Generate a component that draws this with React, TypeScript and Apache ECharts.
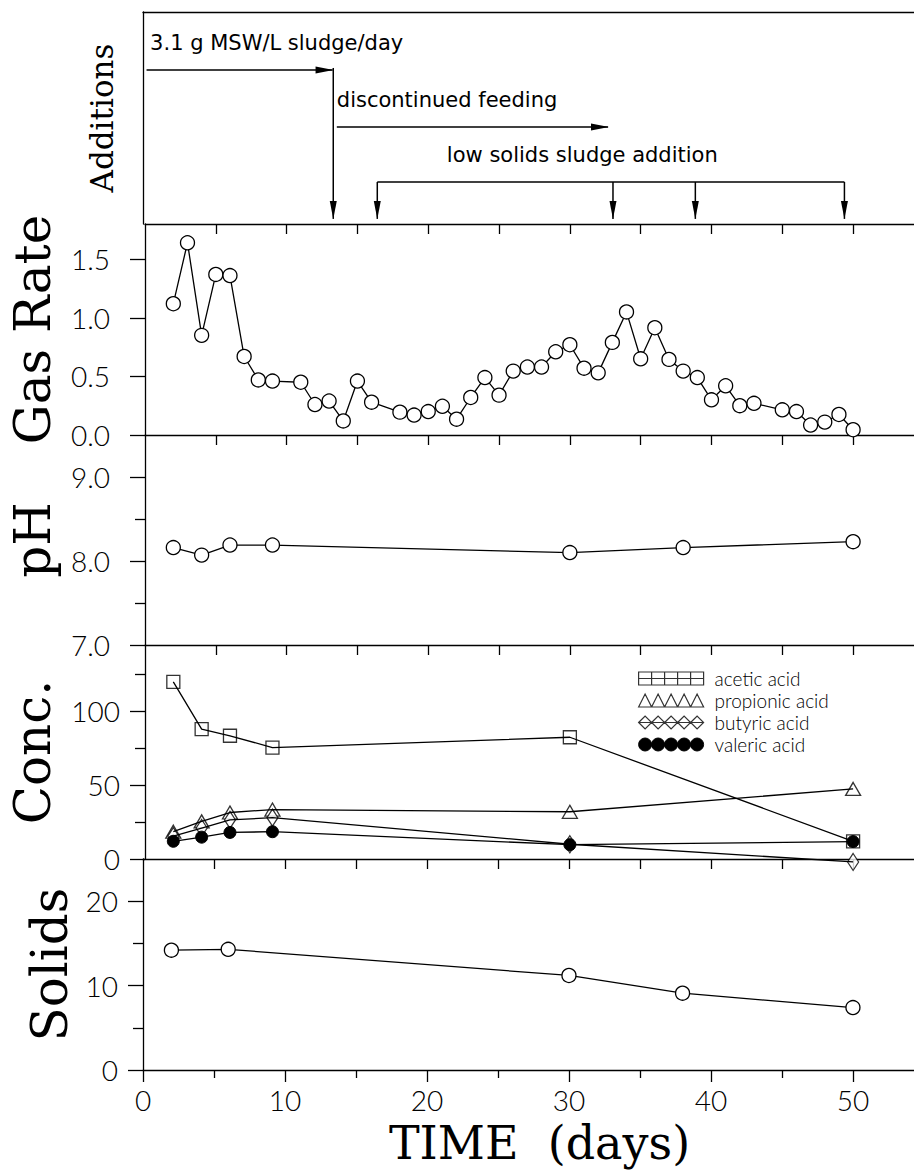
import React, { useEffect, useRef } from "react";
import * as echarts from "echarts";

// ---------------- data ----------------
const X_MAX = 54.3;

const gasDays = [2, 3, 4, 5, 6, 7, 8, 9, 11, 12, 13, 14, 15, 16, 18, 19, 20, 21, 22, 23, 24, 25, 26, 27, 28, 29, 30, 31, 32, 33, 34, 35, 36, 37, 38, 39, 40, 41, 42, 43, 45, 46, 47, 48, 49, 50];
const gasRate = [1.12, 1.64, 0.85, 1.37, 1.36, 0.67, 0.47, 0.46, 0.45, 0.26, 0.29, 0.12, 0.46, 0.28, 0.195, 0.17, 0.2, 0.245, 0.135, 0.32, 0.49, 0.34, 0.545, 0.58, 0.58, 0.71, 0.77, 0.57, 0.53, 0.79, 1.05, 0.65, 0.915, 0.645, 0.545, 0.49, 0.3, 0.42, 0.25, 0.27, 0.215, 0.2, 0.085, 0.11, 0.175, 0.045];

const phDays = [2, 4, 6, 9, 30, 38, 50];
const phValues = [8.16, 8.07, 8.19, 8.19, 8.1, 8.16, 8.23];

const concDays = [2, 4, 6, 9, 30, 50];
const aceticAcid = [120, 88, 83.5, 75.5, 82.5, 12];
const propionicAcid = [18.5, 25.5, 31.5, 33.5, 32, 47.5];
const butyricAcid = [15.5, 21, 26.5, 28, 10, -2];
const valericAcid = [12, 14.8, 18, 18.5, 9.7, 11.8];

const solidsDays = [2, 6, 30, 38, 50];
const solidsValues = [14.2, 14.3, 11.2, 9.1, 7.4];

// additions (days)
const feedPeriod = [0.25, 13.35];
const stopFeedDay = 13.4;
const restPeriod = [13.65, 32.75];
const sludgeDays = [16.5, 33.1, 38.9, 49.4];

// tick values
const xTopTicks = [5, 10, 15, 20, 25, 30, 35, 40, 45, 50];
const xMajorTicks = [0, 10, 20, 30, 40, 50];
const xMinorTicks = [5, 15, 25, 35, 45];
const gasTicks = [0, 0.5, 1, 1.5];
const phTicks = [7, 8, 9];
const phMinor = [7.5, 8.5];
const concTicks = [0, 50, 100];
const concMinor = [25, 75, 125];
const solidsTicks = [0, 10, 20];
const solidsMinor = [5, 15];

// ---------------- styles ----------------
const INK = "#000";
const LW = 1.3;
const axisLS = { color: INK, width: LW };
const TICK_FONT = "Lato";
const TITLE_FONT = "DejaVu Serif";
const NOTE_FONT = "DejaVu Sans";

const topX = (gridIndex: number, ticks: boolean) => ({
  type: "value",
  gridIndex,
  position: "top",
  min: 0,
  max: X_MAX,
  axisLine: { show: true, onZero: false, lineStyle: axisLS },
  axisTick: { show: ticks, inside: true, length: 10, customValues: xTopTicks, lineStyle: axisLS },
  axisLabel: { show: false },
  splitLine: { show: false },
});

const yMain = (
  gridIndex: number,
  min: number,
  max: number,
  ticks: number[],
  margin: number,
  fmt: (v: number) => string,
  name: string,
  nameGap: number,
  nameSize: number
) => ({
  type: "value",
  gridIndex,
  position: "left",
  min,
  max,
  axisLine: { show: true, onZero: false, lineStyle: axisLS },
  axisTick: { show: true, length: 15, customValues: ticks, lineStyle: axisLS },
  axisLabel: {
    show: true,
    customValues: ticks,
    margin,
    formatter: (v: number) => fmt(v),
    fontFamily: TICK_FONT,
    fontWeight: 300,
    fontSize: 28,
    color: INK,
  },
  splitLine: { show: false },
  name,
  nameLocation: "middle",
  nameGap,
  nameTextStyle: { fontFamily: TITLE_FONT, fontSize: nameSize, color: INK },
});

const yMinor = (gridIndex: number, min: number, max: number, ticks: number[]) => ({
  type: "value",
  gridIndex,
  position: "left",
  min,
  max,
  axisLine: { show: false, onZero: false },
  axisTick: { show: true, length: 10, customValues: ticks, lineStyle: axisLS },
  axisLabel: { show: false },
  splitLine: { show: false },
});

const openItem = { color: "#fff", borderColor: INK, borderWidth: LW };
const lineSt = { color: INK, width: LW };

const pair = (xs: number[], ys: number[]) => xs.map((x, i) => [x, ys[i]]);

const repeatPath = (fn: (o: number) => string) =>
  "path://" + [0, 1, 2, 3, 4].map((i) => fn(i * 13)).join("");
const iconAcetic = repeatPath((o) => `M${o} 0H${o + 13}V13H${o}Z`) + "M0 6.5H65";
const iconPropionic = repeatPath((o) => `M${o} 13L${o + 6.5} 0L${o + 13} 13Z`);
const iconButyric = repeatPath((o) => `M${o} 6.5L${o + 6.5} 0L${o + 13} 6.5L${o + 6.5} 13Z`) + "M0 6.5H65";
const iconValeric = repeatPath((o) => `M${o} 6.5A6.5 6.5 0 1 0 ${o + 13} 6.5A6.5 6.5 0 1 0 ${o} 6.5Z`);

// positions inside the "Additions" panel (0 = bottom, 1 = top)
const LV = { text1: 0.854, feed: 0.726, stopTop: 0.736, text2: 0.585, rest: 0.458, text3: 0.325, bracket: 0.198, tip: 0.024 };

function renderAdditions(_params: any, api: any) {
  const c = (d: number, y: number) => api.coord([d, y]);
  const ls = { stroke: INK, lineWidth: 1.5 };
  const ch: any[] = [];
  const line = (a: number[], b: number[]) =>
    ch.push({ type: "line", shape: { x1: a[0], y1: a[1], x2: b[0], y2: b[1] }, style: ls });
  const rightHead = (p: number[]) =>
    ch.push({ type: "polygon", shape: { points: [[p[0] + 1, p[1]], [p[0] - 17, p[1] - 3.5], [p[0] - 17, p[1] + 3.5]] }, style: { fill: INK } });
  const downHead = (p: number[]) =>
    ch.push({ type: "polygon", shape: { points: [[p[0], p[1]], [p[0] - 3.5, p[1] - 18], [p[0] + 3.5, p[1] - 18]] }, style: { fill: INK } });
  const txt = (s: string, d: number, y: number) => {
    const p = c(d, y);
    ch.push({
      type: "text",
      x: p[0],
      y: p[1],
      style: { text: s, fill: INK, fontSize: 21, fontFamily: NOTE_FONT, align: "left", verticalAlign: "middle" },
    });
  };

  txt("3.1 g MSW/L sludge/day", 0.5, LV.text1);
  const f1 = c(feedPeriod[0], LV.feed);
  const f2 = c(feedPeriod[1], LV.feed);
  line(f1, f2);
  rightHead(f2);
  const s1 = c(stopFeedDay, LV.stopTop);
  const s2 = c(stopFeedDay, LV.tip);
  line(s1, s2);
  downHead(s2);

  txt("discontinued feeding", restPeriod[0], LV.text2);
  const r1 = c(restPeriod[0], LV.rest);
  const r2 = c(restPeriod[1], LV.rest);
  line(r1, r2);
  rightHead(r2);

  txt("low solids sludge addition", 21.4, LV.text3);
  const b1 = c(sludgeDays[0], LV.bracket);
  const b2 = c(sludgeDays[sludgeDays.length - 1], LV.bracket);
  line(b1, b2);
  sludgeDays.forEach((d) => {
    const a = c(d, LV.bracket);
    const t = c(d, LV.tip);
    line(a, t);
    downHead(t);
  });
  return { type: "group", children: ch };
}

export default function App() {
  const ref = useRef<HTMLDivElement>(null);

  useEffect(() => {
    if (!ref.current) return;
    const chart = echarts.init(ref.current, undefined, { renderer: "svg" });

    const grids = [
      { left: 143, right: 0, top: 12, height: 212 },
      { left: 143, right: 0, top: 224, height: 211 },
      { left: 143, right: 0, top: 435, height: 210 },
      { left: 143, right: 0, top: 645, height: 214 },
      { left: 143, right: 0, top: 859, height: 211 },
    ];

    const option: any = {
      animation: false,
      backgroundColor: "#fff",
      grid: grids,
      xAxis: [
        topX(0, false),
        topX(1, true),
        topX(2, true),
        topX(3, true),
        topX(4, true),
        {
          type: "value",
          gridIndex: 4,
          position: "bottom",
          min: 0,
          max: X_MAX,
          axisLine: { show: true, onZero: false, lineStyle: axisLS },
          axisTick: { show: true, length: 12, customValues: xMajorTicks, lineStyle: axisLS },
          axisLabel: {
            show: true,
            customValues: xMajorTicks,
            margin: 16,
            fontFamily: TICK_FONT,
            fontWeight: 300,
            fontSize: 28,
            color: INK,
          },
          splitLine: { show: false },
          name: "TIME  (days)",
          nameLocation: "middle",
          nameGap: 50,
          nameTextStyle: { fontFamily: TITLE_FONT, fontSize: 46, lineHeight: 46, color: INK, padding: [0, 0, 0, 22] },
        },
        {
          type: "value",
          gridIndex: 4,
          position: "bottom",
          min: 0,
          max: X_MAX,
          axisLine: { show: false, onZero: false },
          axisTick: { show: true, length: 8, customValues: xMinorTicks, lineStyle: axisLS },
          axisLabel: { show: false },
          splitLine: { show: false },
        },
      ],
      yAxis: [
        {
          type: "value",
          gridIndex: 0,
          position: "left",
          min: 0,
          max: 1,
          axisLine: { show: true, onZero: false, lineStyle: axisLS },
          axisTick: { show: false },
          axisLabel: { show: false },
          splitLine: { show: false },
          name: "Additions",
          nameLocation: "middle",
          nameGap: 26,
          nameTextStyle: { fontFamily: TITLE_FONT, fontSize: 31, color: INK },
        },
        yMain(1, 0, 1.8, gasTicks, 35, (v) => v.toFixed(1), "Gas Rate", 87, 50),
        yMain(2, 7, 9.5, phTicks, 35, (v) => v.toFixed(1), "pH", 87, 50),
        yMinor(2, 7, 9.5, phMinor),
        yMain(3, 0, 145, concTicks, 25, (v) => String(v), "Conc.", 87, 50),
        yMinor(3, 0, 145, concMinor),
        yMain(4, 0, 25, solidsTicks, 25, (v) => String(v), "Solids", 66, 50),
        yMinor(4, 0, 25, solidsMinor),
      ],
      legend: {
        show: true,
        orient: "vertical",
        left: 633,
        top: 663,
        itemWidth: 65,
        itemHeight: 14,
        itemGap: 1,
        selectedMode: false,
        textStyle: { fontFamily: TICK_FONT, fontWeight: 300, fontSize: 19, lineHeight: 21, color: INK, padding: [0, 0, 0, 6] },
        data: [
          { name: "acetic acid", icon: iconAcetic, itemStyle: { color: "#fff", borderColor: INK, borderWidth: 1.2 } },
          { name: "propionic acid", icon: iconPropionic, itemStyle: { color: "#fff", borderColor: INK, borderWidth: 1.2 } },
          { name: "butyric acid", icon: iconButyric, itemStyle: { color: "#fff", borderColor: INK, borderWidth: 1.2 } },
          { name: "valeric acid", icon: iconValeric, itemStyle: { color: INK, borderColor: INK, borderWidth: 1, opacity: 1 } },
        ],
      },
      series: [
        {
          type: "custom",
          name: "additions",
          xAxisIndex: 0,
          yAxisIndex: 0,
          coordinateSystem: "cartesian2d",
          clip: false,
          silent: true,
          data: [[0, 0]],
          renderItem: renderAdditions,
        },
        {
          type: "line",
          name: "gas rate",
          xAxisIndex: 1,
          yAxisIndex: 1,
          data: pair(gasDays, gasRate),
          symbol: "circle",
          symbolSize: 14,
          itemStyle: openItem,
          lineStyle: lineSt,
          clip: false,
        },
        {
          type: "line",
          name: "pH",
          xAxisIndex: 2,
          yAxisIndex: 2,
          data: pair(phDays, phValues),
          symbol: "circle",
          symbolSize: 14,
          itemStyle: openItem,
          lineStyle: lineSt,
          clip: false,
        },
        ...[
          ["acetic", aceticAcid],
          ["propionic", propionicAcid],
          ["butyric", butyricAcid],
          ["valeric", valericAcid],
        ].map(([n, vals]) => ({
          type: "line",
          name: `${n} line`,
          xAxisIndex: 3,
          yAxisIndex: 4,
          data: pair(concDays, vals as number[]),
          showSymbol: false,
          symbol: "none",
          lineStyle: lineSt,
          clip: false,
        })),
        {
          type: "scatter",
          name: "acetic acid",
          xAxisIndex: 3,
          yAxisIndex: 4,
          data: pair(concDays, aceticAcid),
          symbol: "rect",
          symbolSize: 13,
          itemStyle: openItem,
          clip: false,
        },
        {
          type: "scatter",
          name: "propionic acid",
          xAxisIndex: 3,
          yAxisIndex: 4,
          data: pair(concDays, propionicAcid),
          symbol: "triangle",
          symbolSize: [15, 13],
          itemStyle: openItem,
          clip: false,
        },
        {
          type: "scatter",
          name: "butyric acid",
          xAxisIndex: 3,
          yAxisIndex: 4,
          data: pair(concDays, butyricAcid),
          symbol: "diamond",
          symbolSize: [11, 17],
          itemStyle: openItem,
          clip: false,
        },
        {
          type: "scatter",
          name: "valeric acid",
          xAxisIndex: 3,
          yAxisIndex: 4,
          data: pair(concDays, valericAcid),
          symbol: "circle",
          symbolSize: 12,
          itemStyle: { color: INK, borderColor: INK, borderWidth: 1, opacity: 1 },
          clip: false,
        },
        {
          type: "line",
          name: "solids",
          xAxisIndex: 4,
          yAxisIndex: 6,
          data: pair(solidsDays, solidsValues),
          symbol: "circle",
          symbolSize: 14,
          itemStyle: openItem,
          lineStyle: lineSt,
          clip: false,
        },
      ],
    };

    chart.setOption(option);
    return () => chart.dispose();
  }, []);

  return (
    <div
      ref={ref}
      style={{ position: "absolute", left: 0, top: 0, width: 914, height: 1173, background: "#fff" }}
    />
  );
}
